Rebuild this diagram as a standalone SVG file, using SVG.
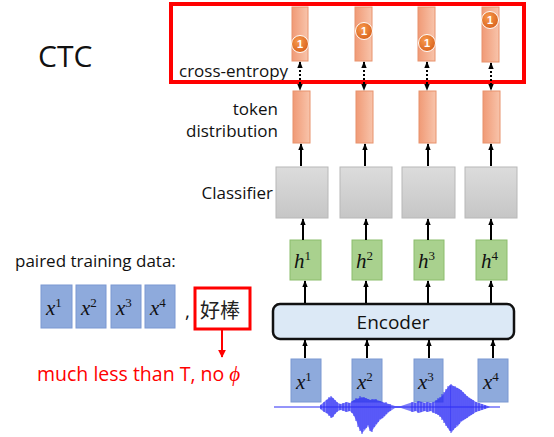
<svg xmlns="http://www.w3.org/2000/svg" width="554" height="437" viewBox="0 0 554 437">
<defs>
<linearGradient id="og" x1="0" y1="0" x2="1" y2="0"><stop offset="0" stop-color="#f09a76"/><stop offset="1" stop-color="#f8c4ab"/></linearGradient>
<linearGradient id="gg" x1="0" y1="0" x2="0" y2="1"><stop offset="0" stop-color="#dcdcdc"/><stop offset="1" stop-color="#c6c6c6"/></linearGradient>
<radialGradient id="bg" cx="0.4" cy="0.35" r="0.7"><stop offset="0" stop-color="#f79a4e"/><stop offset="1" stop-color="#d8601a"/></radialGradient>
<marker id="ah" viewBox="0 0 10 10" refX="9" refY="5" markerUnits="userSpaceOnUse" markerWidth="7" markerHeight="7" orient="auto-start-reverse"><path d="M0,1 L10,5 L0,9 z" fill="#000"/></marker>
<marker id="rh" viewBox="0 0 10 10" refX="9" refY="5" markerUnits="userSpaceOnUse" markerWidth="8" markerHeight="8" orient="auto"><path d="M0,0 L10,5 L0,10 z" fill="#f00"/></marker>
</defs>
<style>
.t{font-family:"Open Sans","Liberation Sans",sans-serif;fill:#111}
.m{font-family:"Liberation Serif","DejaVu Serif",serif;font-style:italic;fill:#111}
.ob{fill:url(#og);stroke:#e8926c;stroke-width:1}
.gb{fill:url(#gg);stroke:#b8b8b8;stroke-width:1}
.hb{fill:#a9d18e;stroke:#8cbd6c;stroke-width:1}
.xb{fill:#8eaadc;stroke:#7b98d2;stroke-width:1}
.ar{stroke:#000;stroke-width:2;fill:none;marker-end:url(#ah)}
.da{stroke:#000;stroke-width:2;stroke-dasharray:2,2;fill:none;marker-end:url(#ah);marker-start:url(#ah)}
.bd{fill:url(#bg);stroke:#fff;stroke-width:1}
.bt{font-family:"Liberation Sans",sans-serif;font-size:11px;font-weight:bold;fill:#fff;text-anchor:middle}
</style>
<rect width="554" height="437" fill="#fff"/>

<g id="labels">
<text class="t" x="38" y="67" font-size="30">CTC</text>
<text class="t" x="179" y="77" font-size="17">cross-entropy</text>
<text class="t" x="278" y="115" font-size="17" text-anchor="end">token</text>
<text class="t" x="278" y="137" font-size="17" text-anchor="end">distribution</text>
<text class="t" x="273" y="199" font-size="17" text-anchor="end">Classifier</text>
<text class="t" x="15" y="267" font-size="17">paired training data:</text>
<text class="t" x="37" y="381" font-size="19.5" style="fill:#f00">much less than T, no <tspan class="m" style="fill:#f00" font-size="21">ϕ</tspan></text>
</g>

<g id="ce-box"><rect x="171" y="4" width="353" height="78" fill="none" stroke="#f00" stroke-width="4"/></g>

<g id="targets">
<rect class="ob" x="292" y="7" width="16" height="54"/>
<rect class="ob" x="355" y="7" width="17" height="54"/>
<rect class="ob" x="418" y="7" width="17" height="54"/>
<rect class="ob" x="482" y="7" width="17" height="55"/>
<g id="badge1"><circle class="bd" cx="300" cy="44" r="8.5"/><text class="bt" x="300" y="48">1</text></g>
<g id="badge2"><circle class="bd" cx="364" cy="31" r="8.5"/><text class="bt" x="364" y="35">1</text></g>
<g id="badge3"><circle class="bd" cx="427" cy="43" r="8.5"/><text class="bt" x="427" y="47">1</text></g>
<g id="badge4"><circle class="bd" cx="490" cy="20" r="8.5"/><text class="bt" x="490" y="24">1</text></g>
</g>

<g id="token-dist">
<rect class="ob" x="293" y="91" width="17" height="52"/>
<rect class="ob" x="356" y="91" width="17" height="52"/>
<rect class="ob" x="419" y="91" width="17" height="52"/>
<rect class="ob" x="483" y="91" width="17" height="52"/>
</g>

<g id="classifier">
<rect class="gb" x="276" y="167" width="52" height="51"/>
<rect class="gb" x="340" y="167" width="52" height="51"/>
<rect class="gb" x="402" y="167" width="53" height="51"/>
<rect class="gb" x="465" y="167" width="52" height="51"/>
</g>

<g id="hidden">
<rect class="hb" x="290" y="240" width="31" height="40"/>
<rect class="hb" x="352" y="240" width="30" height="40"/>
<rect class="hb" x="414" y="240" width="30" height="40"/>
<rect class="hb" x="476" y="240" width="31" height="40"/>
<text class="m" x="294" y="268" font-size="21">h<tspan font-size="13" dy="-8" font-style="normal">1</tspan></text>
<text class="m" x="356" y="268" font-size="21">h<tspan font-size="13" dy="-8" font-style="normal">2</tspan></text>
<text class="m" x="418" y="268" font-size="21">h<tspan font-size="13" dy="-8" font-style="normal">3</tspan></text>
<text class="m" x="481" y="268" font-size="21">h<tspan font-size="13" dy="-8" font-style="normal">4</tspan></text>
</g>

<g id="encoder">
<rect x="273" y="304" width="241" height="35" rx="7" fill="#dce9f6" stroke="#111" stroke-width="2.5"/>
<text class="t" x="393" y="329" font-size="19" text-anchor="middle">Encoder</text>
</g>

<g id="inputs">
<rect class="xb" x="291" y="359" width="30" height="43"/>
<rect class="xb" x="352" y="359" width="30" height="43"/>
<rect class="xb" x="414" y="359" width="29" height="43"/>
<rect class="xb" x="478" y="359" width="30" height="43"/>
<text class="m" x="296" y="389" font-size="21">x<tspan font-size="13" dy="-8" font-style="normal">1</tspan></text>
<text class="m" x="357" y="389" font-size="21">x<tspan font-size="13" dy="-8" font-style="normal">2</tspan></text>
<text class="m" x="418" y="389" font-size="21">x<tspan font-size="13" dy="-8" font-style="normal">3</tspan></text>
<text class="m" x="483" y="389" font-size="21">x<tspan font-size="13" dy="-8" font-style="normal">4</tspan></text>
</g>

<g id="waveform" fill="#2a2af5" stroke="#2a2af5">
<path stroke-width="1" d="M274,407 H500"/>
<polygon stroke="none" opacity="0.6" points="320,405 323,403 326,400 329,398 332,397 335,400 338,403 341,404 344,403 347,402 350,403 353,401 356,399 359,398 362,397 365,398 368,399 371,400 374,399 377,400 380,401 383,402 386,403 389,404 392,405 395,406 401,406 404,405 407,404 410,403 413,402 416,403 419,401 422,402 425,403 428,402 431,403 434,402 437,400 440,398 443,395 446,390 449,386 452,385 455,387 458,388 461,390 464,393 467,396 470,398 473,400 476,402 479,403 482,404 485,405 488,406 490,407 488,408 485,409 482,410 479,411 476,412 473,414 470,416 467,418 464,420 461,422 458,426 455,428 452,432 449,430 446,425 443,420 440,416 437,414 434,413 431,411 428,412 425,411 422,412 419,413 416,411 413,412 410,411 407,410 404,409 401,408 395,408 392,410 389,412 386,415 383,418 380,420 377,424 374,428 371,432 368,426 365,430 362,433 359,428 356,420 353,414 350,411 347,412 344,411 341,410 338,411 335,414 332,418 329,415 326,413 323,411 320,409"/>
<path stroke-width="0.9" d="M321,405V409 M324,402V412 M327,400V413 M329,397V416 M331,396V418 M333,398V417 M335,400V414 M337,402V412 M340,404V410 M343,403V411 M346,402V412 M349,403V411 M352,401V413 M354,400V416 M356,398V421 M358,399V427 M360,396V431 M362,398V434 M364,397V429 M366,398V428 M368,399V425 M370,400V431 M372,399V432 M374,400V427 M376,399V424 M378,401V422 M380,401V419 M382,402V418 M384,403V416 M386,402V414 M388,404V412 M390,404V411 M412,402V412 M415,403V411 M418,401V413 M421,402V412 M424,403V411 M427,402V412 M430,403V411 M433,402V413 M436,400V414 M438,398V415 M440,397V417 M442,394V420 M444,392V423 M446,389V426 M448,386V428 M450,385V431 M451,384V433 M453,386V430 M455,386V428 M457,388V425 M459,389V424 M461,390V421 M463,392V420 M465,394V419 M467,396V418 M469,398V416 M471,399V415 M473,400V414 M476,402V412 M479,403V411 M482,404V410 M485,405V409"/>
</g>

<g id="paired">
<rect class="xb" x="41" y="285" width="31" height="43"/>
<rect class="xb" x="76" y="285" width="30" height="43"/>
<rect class="xb" x="111" y="285" width="30" height="43"/>
<rect class="xb" x="145" y="285" width="30" height="43"/>
<text class="m" x="46" y="315" font-size="21">x<tspan font-size="13" dy="-8" font-style="normal">1</tspan></text>
<text class="m" x="81" y="315" font-size="21">x<tspan font-size="13" dy="-8" font-style="normal">2</tspan></text>
<text class="m" x="116" y="315" font-size="21">x<tspan font-size="13" dy="-8" font-style="normal">3</tspan></text>
<text class="m" x="150" y="315" font-size="21">x<tspan font-size="13" dy="-8" font-style="normal">4</tspan></text>
<text class="t" x="185" y="318" font-size="19">,</text>
<rect x="195" y="288" width="55" height="41" fill="#fff" stroke="#f00" stroke-width="3"/>
<text x="200" y="318" font-size="20" style="font-family:'Noto Sans CJK SC','Noto Sans CJK TC',sans-serif;fill:#222">好棒</text>
</g>

<g id="connectors">
<path class="da" d="M300,62 V90"/>
<path class="da" d="M364,62 V90"/>
<path class="da" d="M427,62 V90"/>
<path class="da" d="M491,63 V90"/>
<path class="ar" d="M301,166 V144"/>
<path class="ar" d="M365,166 V144"/>
<path class="ar" d="M428,166 V144"/>
<path class="ar" d="M491,166 V144"/>
<path class="ar" d="M303,240 V219"/>
<path class="ar" d="M366,240 V219"/>
<path class="ar" d="M428,240 V219"/>
<path class="ar" d="M491,240 V219"/>
<path class="ar" d="M305,303 V281"/>
<path class="ar" d="M366,303 V281"/>
<path class="ar" d="M428,303 V281"/>
<path class="ar" d="M491,303 V281"/>
<path class="ar" d="M305,358 V340"/>
<path class="ar" d="M367,358 V340"/>
<path class="ar" d="M429,358 V340"/>
<path class="ar" d="M493,358 V340"/>
<path d="M222,330 V357" stroke="#f00" stroke-width="2" fill="none" marker-end="url(#rh)"/>
</g>
</svg>
